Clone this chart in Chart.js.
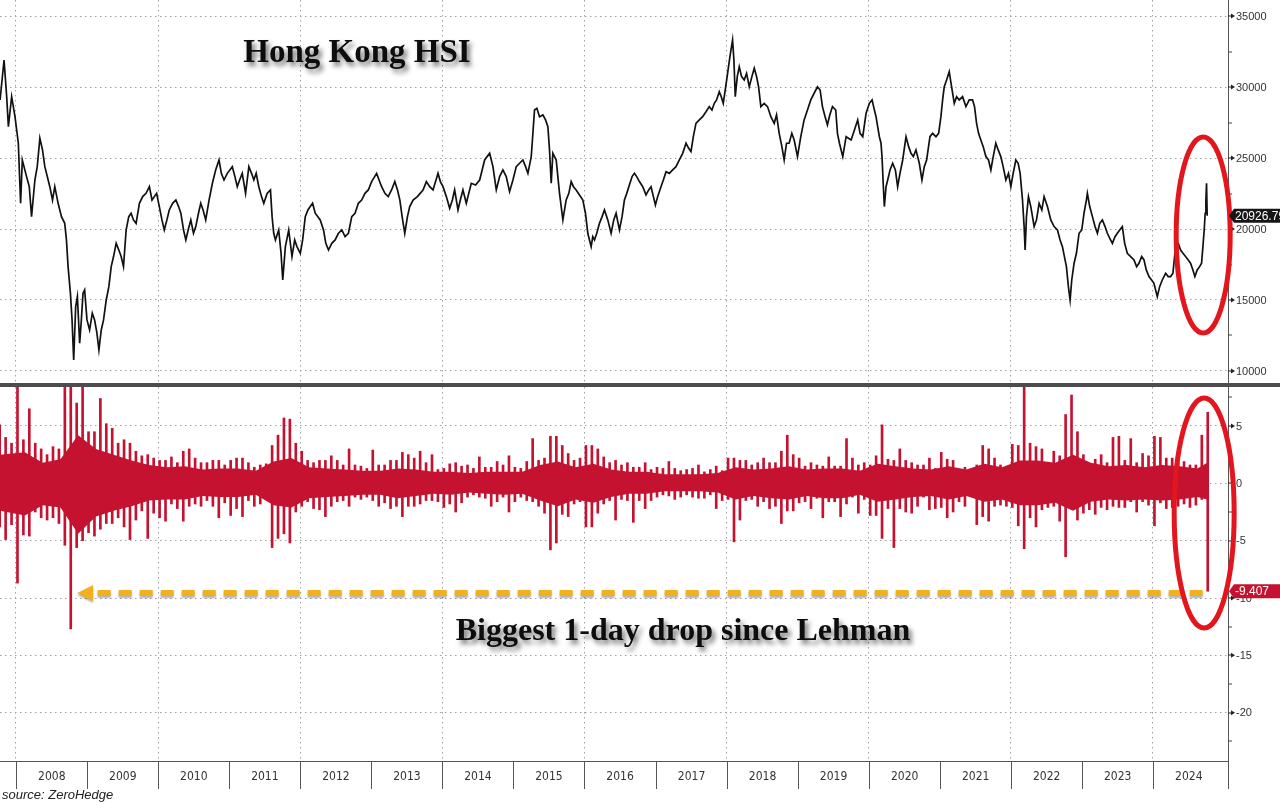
<!DOCTYPE html>
<html>
<head>
<meta charset="utf-8">
<title>Hong Kong HSI</title>
<script src="https://cdn.jsdelivr.net/npm/chart.js@4.4.1/dist/chart.umd.min.js"></script>
<style>
  html, body { margin: 0; padding: 0; background: #fff; }
  #wrap { position: relative; width: 1280px; height: 803px; overflow: hidden; }
  #topBox { position: absolute; left: 0; top: 0; width: 1280px; height: 385px; }
  #botBox { position: absolute; left: 0; top: 386px; width: 1280px; height: 417px; }
  #split { position: absolute; left: 0; top: 383px; width: 1280px; height: 4px; background: #4d4d4d; }
</style>
</head>
<body>
<div id="wrap">
  <div id="topBox"><canvas id="hsiChart"></canvas></div>
  <div id="botBox"><canvas id="retChart"></canvas></div>
  <div id="split"></div>
</div>
<script>
// ---- data ----
const yearLabels = ['2008', '2009', '2010', '2011', '2012', '2013', '2014', '2015', '2016',
  '2017', '2018', '2019', '2020', '2021', '2022', '2023', '2024'];
const gridYears = [2008, 2010, 2012, 2014, 2016, 2018, 2020, 2022, 2024];
const hsiTicks = [10000, 15000, 20000, 25000, 30000, 35000];
const hsiMinorTicks = [12500, 17500, 22500, 27500, 32500];
const retTicks = [5, 0, -5, -10, -15, -20];
const retMinorTicks = [7.5, 2.5, -2.5, -7.5, -12.5, -17.5, -22.5];

// HSI level: [decimal year, index level]
const hsiLine = [
  [2007.776, 29090], [2007.832, 31900], [2007.869, 29320], [2007.893, 27210], [2007.939, 29320], [2007.986, 27910],
  [2008.033, 26040], [2008.056, 22980], [2008.065, 21810], [2008.089, 24860], [2008.149, 23690], [2008.187, 22980],
  [2008.219, 20870], [2008.266, 23450], [2008.299, 24390], [2008.336, 26390], [2008.373, 25570], [2008.406, 24390],
  [2008.476, 22980], [2008.514, 22040], [2008.546, 22980], [2008.593, 21810], [2008.640, 20870], [2008.686, 20400],
  [2008.710, 19230], [2008.733, 17350], [2008.766, 15470], [2008.789, 13600], [2008.812, 10780], [2008.840, 14540],
  [2008.864, 15240], [2008.896, 11950], [2008.920, 13600], [2008.943, 15470], [2008.966, 15710], [2008.999, 13600],
  [2009.036, 12890], [2009.074, 14070], [2009.106, 13600], [2009.139, 12660], [2009.167, 11480], [2009.200, 12890],
  [2009.232, 13600], [2009.270, 15000], [2009.307, 15940], [2009.340, 17350], [2009.373, 18060], [2009.410, 18990],
  [2009.447, 18520], [2009.480, 18060], [2009.513, 17350], [2009.550, 19930], [2009.587, 20870], [2009.620, 21110],
  [2009.653, 20640], [2009.690, 20400], [2009.737, 21810], [2009.783, 22280], [2009.830, 22510], [2009.877, 22980],
  [2009.914, 22040], [2009.947, 22280], [2009.979, 22510], [2010.017, 21580], [2010.054, 20640], [2010.087, 19930],
  [2010.124, 20640], [2010.157, 21340], [2010.204, 21810], [2010.250, 22040], [2010.288, 21580], [2010.320, 21110],
  [2010.358, 19930], [2010.390, 19230], [2010.423, 19930], [2010.460, 20640], [2010.498, 19700], [2010.530, 20170],
  [2010.568, 21110], [2010.600, 21810], [2010.633, 21340], [2010.670, 20640], [2010.717, 22040], [2010.764, 23220],
  [2010.810, 24160], [2010.857, 24860], [2010.890, 23920], [2010.927, 23450], [2010.974, 23920], [2011.044, 24390],
  [2011.081, 23690], [2011.114, 22980], [2011.147, 23450], [2011.184, 23920], [2011.231, 22510], [2011.277, 24390],
  [2011.315, 23920], [2011.347, 23450], [2011.380, 23920], [2011.417, 22980], [2011.455, 22280], [2011.487, 21810],
  [2011.534, 22510], [2011.581, 22750], [2011.604, 20870], [2011.627, 19700], [2011.651, 19230], [2011.697, 19930],
  [2011.730, 18290], [2011.754, 16410], [2011.791, 18760], [2011.838, 19930], [2011.884, 18060], [2011.922, 19230],
  [2011.954, 18760], [2012.001, 18290], [2012.034, 19230], [2012.071, 20870], [2012.108, 21340], [2012.141, 21580],
  [2012.174, 21810], [2012.211, 21110], [2012.248, 20870], [2012.281, 20640], [2012.328, 19930], [2012.360, 18990],
  [2012.398, 18520], [2012.444, 18990], [2012.491, 19230], [2012.538, 19700], [2012.585, 19930], [2012.631, 19460],
  [2012.678, 19700], [2012.725, 20870], [2012.771, 21110], [2012.818, 21810], [2012.865, 22040], [2012.911, 22510],
  [2012.958, 22750], [2013.005, 23340], [2013.075, 23920], [2013.145, 22980], [2013.192, 22510], [2013.238, 22280],
  [2013.285, 22750], [2013.331, 23340], [2013.369, 22750], [2013.402, 22040], [2013.434, 20870], [2013.471, 19700],
  [2013.509, 20870], [2013.541, 21580], [2013.588, 22040], [2013.649, 22280], [2013.728, 22750], [2013.775, 23340],
  [2013.822, 22980], [2013.869, 22750], [2013.939, 23920], [2013.972, 23340], [2014.009, 22980], [2014.056, 22280],
  [2014.103, 21460], [2014.141, 22040], [2014.173, 22750], [2014.220, 21340], [2014.253, 22040], [2014.290, 22750],
  [2014.337, 21810], [2014.407, 23220], [2014.468, 23100], [2014.525, 23450], [2014.595, 24860], [2014.665, 25330],
  [2014.712, 24390], [2014.759, 22750], [2014.806, 23690], [2014.852, 24160], [2014.899, 23690], [2014.946, 22630],
  [2014.993, 23450], [2015.040, 24390], [2015.087, 24630], [2015.133, 24860], [2015.171, 24390], [2015.204, 23920],
  [2015.251, 25100], [2015.274, 26740], [2015.297, 28380], [2015.330, 28500], [2015.368, 27910], [2015.415, 28030],
  [2015.452, 27680], [2015.485, 27210], [2015.508, 25570], [2015.532, 23220], [2015.555, 25330], [2015.602, 24860],
  [2015.649, 22510], [2015.696, 20640], [2015.742, 22040], [2015.780, 22510], [2015.813, 23340], [2015.845, 22980],
  [2015.883, 22750], [2015.930, 22400], [2015.977, 22040], [2016.014, 21110], [2016.047, 19700], [2016.070, 19230],
  [2016.094, 18760], [2016.117, 19460], [2016.141, 19230], [2016.173, 19700], [2016.211, 20400], [2016.248, 20870],
  [2016.281, 21340], [2016.328, 20640], [2016.375, 19700], [2016.412, 20640], [2016.445, 21110], [2016.492, 19930],
  [2016.529, 20870], [2016.562, 22040], [2016.595, 22510], [2016.632, 23100], [2016.670, 23690], [2016.703, 23920],
  [2016.735, 23690], [2016.773, 23340], [2016.820, 22980], [2016.866, 22400], [2016.904, 22750], [2016.937, 22980],
  [2016.970, 22280], [2016.998, 21690], [2017.030, 22280], [2017.077, 22980], [2017.110, 23450], [2017.148, 24040],
  [2017.194, 23920], [2017.241, 24160], [2017.288, 24390], [2017.335, 24860], [2017.382, 25330], [2017.429, 26040],
  [2017.466, 25680], [2017.499, 25450], [2017.532, 26500], [2017.569, 27440], [2017.616, 27680], [2017.663, 27910],
  [2017.710, 28260], [2017.756, 28620], [2017.794, 28380], [2017.827, 28850], [2017.859, 29090], [2017.897, 29670],
  [2017.925, 29320], [2017.953, 28850], [2017.981, 29790], [2018.014, 30960], [2018.047, 32140], [2018.084, 33310],
  [2018.103, 31900], [2018.122, 29320], [2018.150, 30730], [2018.178, 31430], [2018.211, 30730], [2018.248, 30490],
  [2018.281, 30960], [2018.319, 30020], [2018.356, 30730], [2018.389, 31320], [2018.422, 30730], [2018.450, 30020],
  [2018.482, 28620], [2018.529, 28850], [2018.576, 28620], [2018.623, 27910], [2018.670, 27440], [2018.703, 28030],
  [2018.740, 26740], [2018.778, 25800], [2018.810, 24860], [2018.843, 26040], [2018.880, 26040], [2018.918, 26740],
  [2018.951, 26270], [2018.998, 25100], [2019.044, 26500], [2019.091, 27680], [2019.138, 28380], [2019.185, 29090],
  [2019.232, 29560], [2019.279, 30020], [2019.316, 29790], [2019.349, 28620], [2019.386, 27910], [2019.419, 27330],
  [2019.452, 28030], [2019.490, 28620], [2019.536, 28380], [2019.560, 26740], [2019.588, 26040], [2019.635, 25100],
  [2019.682, 26500], [2019.752, 26270], [2019.799, 26970], [2019.845, 27680], [2019.878, 26740], [2019.916, 26500],
  [2019.963, 28150], [2020.009, 28850], [2020.047, 29090], [2020.080, 28380], [2020.103, 27910], [2020.126, 27210],
  [2020.150, 26500], [2020.173, 26040], [2020.187, 25100], [2020.206, 22980], [2020.220, 21580], [2020.244, 22980],
  [2020.267, 23450], [2020.300, 24160], [2020.337, 24630], [2020.375, 24160], [2020.407, 22980], [2020.440, 23920],
  [2020.478, 24860], [2020.525, 26500], [2020.562, 25800], [2020.595, 25330], [2020.628, 25100], [2020.665, 25570],
  [2020.712, 24630], [2020.749, 23450], [2020.782, 24390], [2020.815, 24860], [2020.862, 26500], [2020.899, 26740],
  [2020.946, 26500], [2020.984, 26740], [2021.016, 27910], [2021.040, 29090], [2021.063, 30020], [2021.096, 30490],
  [2021.133, 31080], [2021.166, 30020], [2021.204, 28850], [2021.237, 29320], [2021.274, 29090], [2021.321, 29320],
  [2021.368, 28620], [2021.415, 29090], [2021.461, 29090], [2021.489, 28620], [2021.518, 27440], [2021.546, 26740],
  [2021.578, 26270], [2021.611, 25800], [2021.649, 25100], [2021.686, 24860], [2021.719, 24160], [2021.752, 25100],
  [2021.789, 26040], [2021.822, 25570], [2021.859, 25100], [2021.892, 24390], [2021.930, 23450], [2021.967, 23920],
  [2022.000, 22980], [2022.033, 23920], [2022.070, 24860], [2022.103, 24630], [2022.131, 23920], [2022.164, 22040],
  [2022.187, 20170], [2022.201, 18520], [2022.220, 20870], [2022.248, 22280], [2022.281, 21580], [2022.328, 20170],
  [2022.361, 20640], [2022.398, 21810], [2022.436, 21340], [2022.468, 22280], [2022.515, 21580], [2022.562, 20640],
  [2022.609, 20170], [2022.656, 19930], [2022.693, 19230], [2022.726, 18760], [2022.754, 18060], [2022.782, 17350],
  [2022.810, 15940], [2022.834, 15000], [2022.857, 16410], [2022.890, 17590], [2022.923, 18290], [2022.960, 19700],
  [2022.998, 19930], [2023.030, 21110], [2023.063, 22040], [2023.077, 22510], [2023.110, 21580], [2023.148, 20870],
  [2023.185, 20170], [2023.218, 19700], [2023.251, 20400], [2023.288, 20640], [2023.326, 20170], [2023.358, 19700],
  [2023.391, 19350], [2023.429, 18990], [2023.466, 19460], [2023.499, 19700], [2023.532, 19930], [2023.569, 20170],
  [2023.602, 18990], [2023.639, 18290], [2023.686, 18060], [2023.733, 17820], [2023.770, 17350], [2023.803, 17590],
  [2023.841, 18060], [2023.874, 17820], [2023.906, 17120], [2023.944, 16650], [2023.981, 16410], [2024.014, 16180],
  [2024.037, 15710], [2024.061, 15240], [2024.094, 15940], [2024.131, 16410], [2024.178, 16880], [2024.215, 16650],
  [2024.248, 16650], [2024.281, 16880], [2024.318, 18760], [2024.356, 18990], [2024.389, 18520], [2024.422, 18290],
  [2024.459, 18060], [2024.496, 17820], [2024.529, 17590], [2024.562, 17120], [2024.590, 16650], [2024.623, 17120],
  [2024.656, 17350], [2024.684, 17590], [2024.703, 18760], [2024.721, 19930], [2024.735, 21110], [2024.745, 22040],
  [2024.754, 23220], [2024.763, 20926.79]
];

// daily % change, biggest up / down day of each month, Oct 2007 .. Oct 2024
const retMonthStart = 2007.75;
const retHigh = [
  5.1, 4.0, 3.5,
  10.7, 3.8, 6.5, 3.5, 3.0, 2.5, 3.2, 3.0, 9.6, 14.4, 7.0, 8.7,
  4.5, 4.5, 7.4, 5.2, 4.8, 3.5, 3.8, 3.5, 2.8, 2.4, 2.5, 2.2,
  2.0, 2.0, 2.3, 1.8, 2.8, 3.0, 2.2, 1.8, 1.8, 2.0, 2.0, 1.6,
  2.0, 2.2, 2.2, 1.8, 1.4, 1.6, 1.7, 3.3, 4.2, 5.7, 5.6, 3.5,
  2.8, 2.0, 1.8, 2.0, 2.0, 2.4, 2.0, 1.6, 3.0, 1.6, 1.5, 1.3,
  2.9, 1.6, 1.6, 2.0, 2.0, 2.7, 2.5, 2.2, 2.8, 1.8, 2.5, 1.2,
  1.3, 1.7, 1.8, 1.5, 1.6, 1.3, 2.3, 1.4, 1.4, 1.9, 1.6, 2.4,
  1.4, 1.3, 1.9, 3.9, 2.0, 2.2, 4.1, 4.1, 3.3, 2.6, 2.0, 2.2,
  3.3, 3.3, 3.0, 2.3, 1.8, 2.0, 1.6, 1.8, 1.4, 1.4, 1.8, 1.2,
  1.4, 1.3, 1.9, 1.3, 1.1, 1.2, 1.3, 1.6, 1.0, 1.2, 1.5, 1.1,
  2.2, 2.2, 2.0, 2.0, 1.6, 1.8, 2.2, 1.8, 1.8, 2.8, 4.2, 2.5,
  2.2, 1.5, 1.8, 1.6, 1.5, 2.3, 1.5, 1.5, 3.9, 2.2, 1.6, 1.8,
  1.6, 2.4, 5.1, 2.1, 2.0, 3.0, 2.0, 1.8, 1.6, 1.6, 2.2, 1.3,
  2.7, 2.1, 2.0, 1.2, 1.4, 1.2, 1.6, 3.3, 3.0, 2.2, 1.6, 1.4,
  3.4, 3.3, 9.1, 3.5, 3.2, 3.0, 1.8, 2.8, 2.4, 6.0, 7.7, 4.5,
  2.5, 1.7, 2.1, 2.5, 1.8, 4.0, 4.1, 2.0, 3.9, 1.8, 2.6, 2.4,
  4.1, 4.0, 2.2, 2.2, 1.8, 1.9, 1.6, 1.6, 4.2, 6.2
];
const retLow = [
  -3.8, -4.9, -3.6,
  -8.7, -4.5, -4.6, -2.5, -3.0, -3.2, -3.0, -3.5, -5.4, -12.7, -5.6, -5.0,
  -4.3, -4.6, -4.0, -3.5, -3.5, -3.0, -3.8, -4.9, -3.2, -2.4, -4.8, -2.6,
  -3.0, -3.3, -1.8, -2.2, -3.3, -2.0, -1.8, -2.0, -1.5, -2.0, -3.0, -1.7,
  -2.8, -2.2, -2.9, -1.5, -2.0, -1.8, -1.4, -5.6, -4.8, -4.4, -5.2, -2.5,
  -2.0, -1.6, -2.2, -2.3, -2.9, -2.0, -1.6, -1.5, -2.0, -1.2, -1.4, -1.2,
  -1.5, -2.0, -1.7, -2.2, -2.0, -2.9, -2.0, -2.0, -1.8, -1.5, -1.5, -1.6,
  -2.1, -1.8, -2.5, -1.7, -1.2, -1.0, -1.2, -1.3, -2.0, -1.6, -1.2, -2.5,
  -1.6, -1.2, -1.5, -1.6, -2.0, -2.6, -5.8, -5.2, -2.7, -2.9, -1.8, -1.6,
  -3.8, -3.8, -2.6, -1.8, -1.5, -3.2, -1.4, -1.5, -3.4, -1.5, -2.2, -1.5,
  -1.2, -1.0, -1.1, -1.4, -1.2, -1.0, -1.2, -1.3, -1.3, -1.0, -2.2, -1.5,
  -1.4, -5.1, -3.2, -1.5, -1.4, -2.0, -1.6, -2.2, -2.0, -3.5, -2.4, -2.4,
  -1.7, -1.6, -2.2, -1.3, -3.0, -1.6, -1.6, -2.9, -1.8, -1.2, -2.6, -1.4,
  -2.8, -2.8, -4.8, -2.2, -5.6, -2.2, -2.5, -2.6, -2.0, -1.2, -2.3, -2.2,
  -2.1, -3.0, -2.5, -1.6, -2.0, -1.1, -3.6, -2.9, -3.3, -2.0, -1.9, -2.0,
  -2.1, -3.7, -5.7, -3.0, -3.8, -2.3, -2.1, -2.0, -3.3, -6.4, -2.1, -3.2,
  -2.6, -2.3, -2.7, -2.1, -2.3, -2.0, -2.1, -2.1, -1.6, -2.5, -1.6, -1.9,
  -3.7, -1.7, -2.2, -2.1, -2.0, -1.8, -2.1, -1.9, -1.4, -9.407
];
// dense part of the daily bars, per quarter from Q4 2007
const coreHigh = [
  2.5,
  2.7, 1.8, 2.1, 4.2,  3.0, 2.5, 2.0, 1.6,  1.4, 1.5, 1.2, 1.3,  1.3, 1.1, 1.9, 2.2,
  1.4, 1.3, 1.2, 1.1,  1.1, 1.3, 1.2, 1.0,  1.0, 0.9, 1.0, 1.0,  1.0, 1.6, 1.9, 1.4,
  1.7, 1.2, 1.0, 1.0,  0.8, 0.8, 0.8, 0.9,  1.4, 1.2, 1.3, 1.5,  1.2, 1.3, 1.3, 1.1,
  1.7, 1.5, 1.3, 1.2,  1.5, 1.2, 1.7, 1.4,  2.0, 2.0, 1.8, 2.5,  1.8, 1.5, 1.6, 1.4,
  1.6, 1.5, 1.3, 1.8
];
const coreLow = [
  -2.4,
  -2.8, -1.9, -2.1, -4.4,  -2.9, -2.4, -2.0, -1.5,  -1.4, -1.4, -1.1, -1.2,  -1.2, -1.0, -1.9, -2.1,
  -1.3, -1.2, -1.1, -1.0,  -1.0, -1.3, -1.1, -0.9,  -1.0, -0.8, -0.9, -1.0,  -0.9, -1.5, -2.0, -1.4,
  -1.7, -1.2, -0.9, -0.9,  -0.7, -0.7, -0.7, -0.8,  -1.4, -1.1, -1.3, -1.4,  -1.1, -1.3, -1.3, -1.0,
  -1.6, -1.4, -1.2, -1.1,  -1.4, -1.1, -1.6, -1.4,  -1.9, -1.9, -1.7, -2.4,  -1.6, -1.4, -1.5, -1.4,
  -1.5, -1.4, -1.2, -1.4
];

// ---- layout ----
const X_MIN = 2007.775, X_MAX = 2025.056;
const RED = '#c41230';
const firstDate = hsiLine[0][0];
const lastPoint = hsiLine[hsiLine.length - 1];

const hsiPoints = hsiLine.map(([x, y]) => ({ x, y }));
const retBars = retHigh.map((hi, i) => ({ x: retMonthStart + (i + 0.25) / 12, y: [retLow[i], hi] }));
const coreX = coreHigh.map((_, k) => {
  if (k === 0) return firstDate;
  if (k === coreHigh.length - 1) return lastPoint[0];
  return retMonthStart + (k * 3 + 1.5) / 12;
});

// helpers
function line(ctx, x1, y1, x2, y2) {
  ctx.beginPath(); ctx.moveTo(x1, y1); ctx.lineTo(x2, y2); ctx.stroke();
}
function majorTick(ctx, xr, y, label) {
  ctx.fillStyle = '#222';
  ctx.fillRect(xr, Math.round(y) - 0.5, 4, 1);
  ctx.beginPath();
  ctx.moveTo(xr + 3, y - 2.5); ctx.lineTo(xr + 7, y); ctx.lineTo(xr + 3, y + 2.5);
  ctx.closePath(); ctx.fill();
  ctx.fillStyle = '#333';
  ctx.font = '11px "Liberation Sans", Arial, sans-serif';
  ctx.textAlign = 'left'; ctx.textBaseline = 'middle';
  ctx.fillText(label, xr + 8, y + 0.5);
}
function minorTick(ctx, xr, y) {
  ctx.fillStyle = '#444';
  ctx.fillRect(xr, Math.round(y) - 0.5, 4, 1);
}
function shadowText(ctx, text, x, y, font) {
  ctx.save();
  ctx.font = font;
  ctx.textAlign = 'center'; ctx.textBaseline = 'alphabetic';
  ctx.shadowColor = 'rgba(0,0,0,0.55)';
  ctx.shadowBlur = 5; ctx.shadowOffsetX = 3; ctx.shadowOffsetY = 4;
  ctx.fillStyle = '#0d0d0d';
  ctx.fillText(text, x, y);
  ctx.restore();
}
function ring(ctx, cx, cy, rx, ry) {
  ctx.save();
  ctx.beginPath(); ctx.ellipse(cx, cy, rx, ry, 0, 0, Math.PI * 2);
  ctx.strokeStyle = '#e3161d'; ctx.lineWidth = 5; ctx.stroke();
  ctx.restore();
}
function valueTag(ctx, xr, y, text, color) {
  ctx.save();
  ctx.fillStyle = color;
  ctx.beginPath();
  ctx.moveTo(xr + 1, y); ctx.lineTo(xr + 6, y - 7); ctx.lineTo(1280, y - 7);
  ctx.lineTo(1280, y + 7); ctx.lineTo(xr + 6, y + 7); ctx.closePath(); ctx.fill();
  ctx.fillStyle = '#fff';
  ctx.font = '12px "Liberation Sans", Arial, sans-serif';
  ctx.textAlign = 'left'; ctx.textBaseline = 'middle';
  ctx.fillText(text, xr + 7, y + 0.5);
  ctx.restore();
}

const gridStyle = { color: '#a0a0a0', lineWidth: 1, drawTicks: false };
const borderStyle = { display: false, dash: [1.5, 3.5] };

const topDecor = {
  id: 'topDecor',
  afterDraw(chart) {
    const { ctx, chartArea: a, scales: { x, y } } = chart;
    ctx.save();
    ctx.strokeStyle = '#555'; ctx.lineWidth = 1;
    line(ctx, a.right + 0.5, 0, a.right + 0.5, chart.height);
    hsiMinorTicks.forEach(v => minorTick(ctx, a.right, y.getPixelForValue(v)));
    hsiTicks.forEach(v => majorTick(ctx, a.right, y.getPixelForValue(v), String(v)));
    shadowText(ctx, 'Hong Kong HSI', 357, 62, 'bold 33px "Liberation Serif", "Times New Roman", serif');
    ring(ctx, x.getPixelForValue(lastPoint[0]) - 4, 235, 27, 98);
    valueTag(ctx, a.right, y.getPixelForValue(lastPoint[1]), lastPoint[1].toFixed(2), '#161616');
    ctx.restore();
  }
};

const bottomDecor = {
  id: 'bottomDecor',
  afterDraw(chart) {
    const { ctx, chartArea: a, scales: { x, y } } = chart;
    ctx.save();
    ctx.strokeStyle = '#555'; ctx.lineWidth = 1;
    line(ctx, a.right + 0.5, 0, a.right + 0.5, a.bottom + 28);
    line(ctx, 0, a.bottom + 0.5, a.right, a.bottom + 0.5);
    retMinorTicks.forEach(v => minorTick(ctx, a.right, y.getPixelForValue(v)));
    retTicks.forEach(v => majorTick(ctx, a.right, y.getPixelForValue(v), String(v)));

    // year boxes along the bottom
    ctx.fillStyle = '#333';
    ctx.font = '12px "Liberation Sans Narrow", "DejaVu Sans Condensed", "Liberation Sans", sans-serif';
    ctx.textAlign = 'center'; ctx.textBaseline = 'middle';
    yearLabels.forEach(lab => {
      const xs = Math.round(x.getPixelForValue(+lab)) + 0.5;
      const xe = Math.min(x.getPixelForValue(+lab + 1), a.right);
      line(ctx, xs, a.bottom, xs, a.bottom + 28);
      ctx.fillText(lab, (xs + xe) / 2, a.bottom + 16);
    });
    ctx.font = 'italic 13px "Liberation Sans", Arial, sans-serif';
    ctx.textAlign = 'left'; ctx.textBaseline = 'alphabetic';
    ctx.fillStyle = '#222';
    ctx.fillText('source: ZeroHedge', 2, a.bottom + 38);

    // dashed arrow back to Lehman
    const ay = y.getPixelForValue(-9.56);
    const tip = x.getPixelForValue(2008.86);
    const tail = x.getPixelForValue(2024.7);
    ctx.save();
    ctx.shadowColor = 'rgba(0,0,0,0.3)'; ctx.shadowBlur = 2; ctx.shadowOffsetY = 2;
    ctx.strokeStyle = '#f2b01e'; ctx.lineWidth = 6; ctx.setLineDash([13, 8]);
    line(ctx, tail, ay, tip + 16, ay);
    ctx.setLineDash([]);
    ctx.fillStyle = '#f2b01e';
    ctx.beginPath();
    ctx.moveTo(tip, ay); ctx.lineTo(tip + 16, ay - 8); ctx.lineTo(tip + 16, ay + 8);
    ctx.closePath(); ctx.fill();
    ctx.restore();

    shadowText(ctx, 'Biggest 1-day drop since Lehman', 683, 254, 'bold 32px "Liberation Serif", "Times New Roman", serif');
    ring(ctx, x.getPixelForValue(lastPoint[0]) - 3, 127, 30, 115);
    valueTag(ctx, a.right, y.getPixelForValue(retLow[retLow.length - 1]), retLow[retLow.length - 1].toFixed(3), RED);
    ctx.restore();
  }
};

new Chart(document.getElementById('hsiChart'), {
  type: 'line',
  data: {
    datasets: [{
      data: hsiPoints,
      borderColor: '#111',
      borderWidth: 1.7,
      pointRadius: 0,
      tension: 0
    }]
  },
  options: {
    responsive: true, maintainAspectRatio: false, animation: false, devicePixelRatio: 1,
    layout: { padding: 0 },
    plugins: { legend: { display: false }, tooltip: { enabled: false } },
    scales: {
      x: {
        type: 'linear', min: X_MIN, max: X_MAX,
        afterBuildTicks: s => { s.ticks = gridYears.map(v => ({ value: v })); },
        afterFit: s => { s.height = 0; },
        ticks: { display: false }, grid: gridStyle, border: borderStyle
      },
      y: {
        position: 'right', min: 9014, max: 36127,
        afterBuildTicks: s => { s.ticks = hsiTicks.map(v => ({ value: v })); },
        afterFit: s => { s.width = 52; },
        ticks: { display: false }, grid: gridStyle, border: borderStyle
      }
    }
  },
  plugins: [topDecor]
});

new Chart(document.getElementById('retChart'), {
  data: {
    datasets: [
      {
        type: 'line',
        data: coreHigh.map((v, k) => ({ x: coreX[k], y: v })),
        borderWidth: 0, pointRadius: 0, fill: false, backgroundColor: RED
      },
      {
        type: 'line',
        data: coreLow.map((v, k) => ({ x: coreX[k], y: v })),
        borderWidth: 0, pointRadius: 0, fill: '-1', backgroundColor: RED
      },
      {
        type: 'bar',
        data: retBars,
        backgroundColor: RED,
        barThickness: 2,
        grouped: false
      }
    ]
  },
  options: {
    responsive: true, maintainAspectRatio: false, animation: false, devicePixelRatio: 1,
    layout: { padding: { top: 1, bottom: 42, left: 0, right: 0 } },
    plugins: { legend: { display: false }, tooltip: { enabled: false } },
    scales: {
      x: {
        type: 'linear', min: X_MIN, max: X_MAX, offset: false,
        afterBuildTicks: s => { s.ticks = gridYears.map(v => ({ value: v })); },
        afterFit: s => { s.height = 0; },
        ticks: { display: false }, grid: { ...gridStyle, offset: false }, border: borderStyle
      },
      y: {
        position: 'right', min: -24.21, max: 8.4,
        afterBuildTicks: s => { s.ticks = retTicks.map(v => ({ value: v })); },
        afterFit: s => { s.width = 52; },
        ticks: { display: false }, grid: gridStyle, border: borderStyle
      }
    }
  },
  plugins: [bottomDecor]
});
</script>
</body>
</html>
